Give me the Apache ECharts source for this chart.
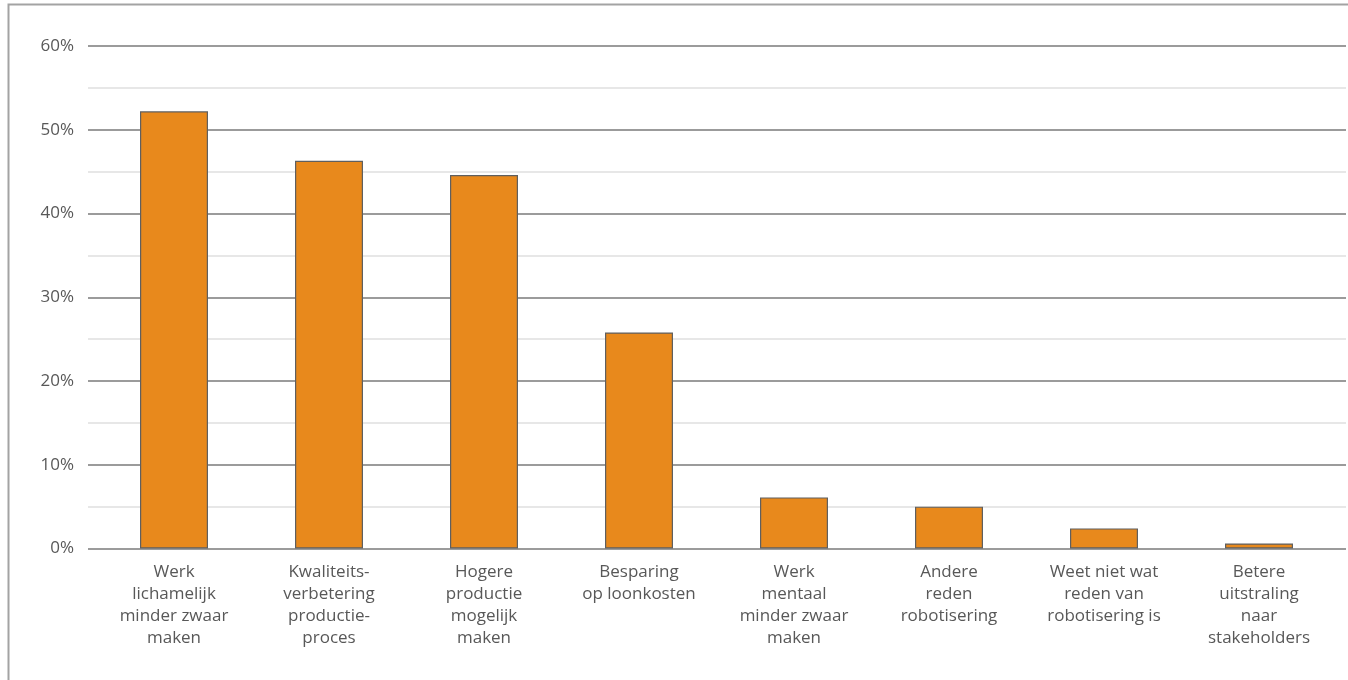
<!DOCTYPE html>
<html>
<head>
<meta charset="utf-8">
<script src="https://cdn.jsdelivr.net/npm/echarts@6/dist/echarts.min.js"></script>
<style>
  html, body { margin: 0; padding: 0; background: #fff; }
  #chart { width: 1348px; height: 680px; }
</style>
</head>
<body>
<div id="chart"></div>
<script>
// Redenen voor robotisering (aandeel respondenten, %)
const categories = [
  'Werk\nlichamelijk\nminder zwaar\nmaken',
  'Kwaliteits-\nverbetering\nproductie-\nproces',
  'Hogere\nproductie\nmogelijk\nmaken',
  'Besparing\nop loonkosten',
  'Werk\nmentaal\nminder zwaar\nmaken',
  'Andere\nreden\nrobotisering',
  'Weet niet wat\nreden van\nrobotisering is',
  'Betere\nuitstraling\nnaar\nstakeholders'
];
const shares = [52.2, 46.3, 44.6, 25.8, 6.1, 5.0, 2.4, 0.6];
const yTicks = [0, 10, 20, 30, 40, 50, 60];

const FONT = '"Open Sans", "Noto Sans", sans-serif';
const TEXT = '#585858';
const BOTTOM = 131.5;
const TOP = 46;

const chart = echarts.init(document.getElementById('chart'), null, { renderer: 'canvas' });

chart.setOption({
  animation: false,
  graphic: [{
    type: 'rect',
    shape: { x: 8.5, y: 4.5, width: 1400, height: 700 },
    style: { fill: 'none', stroke: '#a3a3a3', lineWidth: 2 },
    silent: true
  }],
  grid: [
    // gridline area
    { left: 88, right: 2, top: TOP, bottom: BOTTOM },
    // bar area
    { left: 96.5, right: 11.5, top: TOP, bottom: BOTTOM }
  ],
  xAxis: [
    { type: 'value', gridIndex: 0, min: 0, max: 1, show: false },
    {
      type: 'category',
      gridIndex: 1,
      data: categories,
      axisLine: { show: false },
      axisTick: { show: false },
      axisLabel: {
        interval: 0,
        margin: 13,
        color: TEXT,
        fontFamily: FONT,
        fontSize: 17,
        lineHeight: 22,
        align: 'center'
      }
    }
  ],
  yAxis: [
    {
      type: 'value',
      gridIndex: 0,
      min: yTicks[0],
      max: yTicks[yTicks.length - 1],
      interval: 10,
      axisLine: { show: false },
      axisTick: { show: false },
      axisLabel: {
        margin: 14,
        color: TEXT,
        fontFamily: FONT,
        fontSize: 17,
        formatter: v => v + '%'
      },
      splitLine: { show: true, lineStyle: { color: '#7a7a7a', width: 1.5 } },
      minorTick: { show: false, splitNumber: 2 },
      minorSplitLine: { show: true, lineStyle: { color: '#e0e0e0', width: 1.5 } }
    },
    {
      type: 'value',
      gridIndex: 1,
      min: yTicks[0],
      max: yTicks[yTicks.length - 1],
      interval: 10,
      show: false,
      splitLine: { show: false }
    }
  ],
  series: [{
    type: 'bar',
    xAxisIndex: 1,
    yAxisIndex: 1,
    data: shares,
    barWidth: 68,
    itemStyle: {
      color: '#e8891c',
      borderColor: '#5f5f5f',
      borderWidth: 1.2
    },
    z: 3
  }]
});
</script>
</body>
</html>
